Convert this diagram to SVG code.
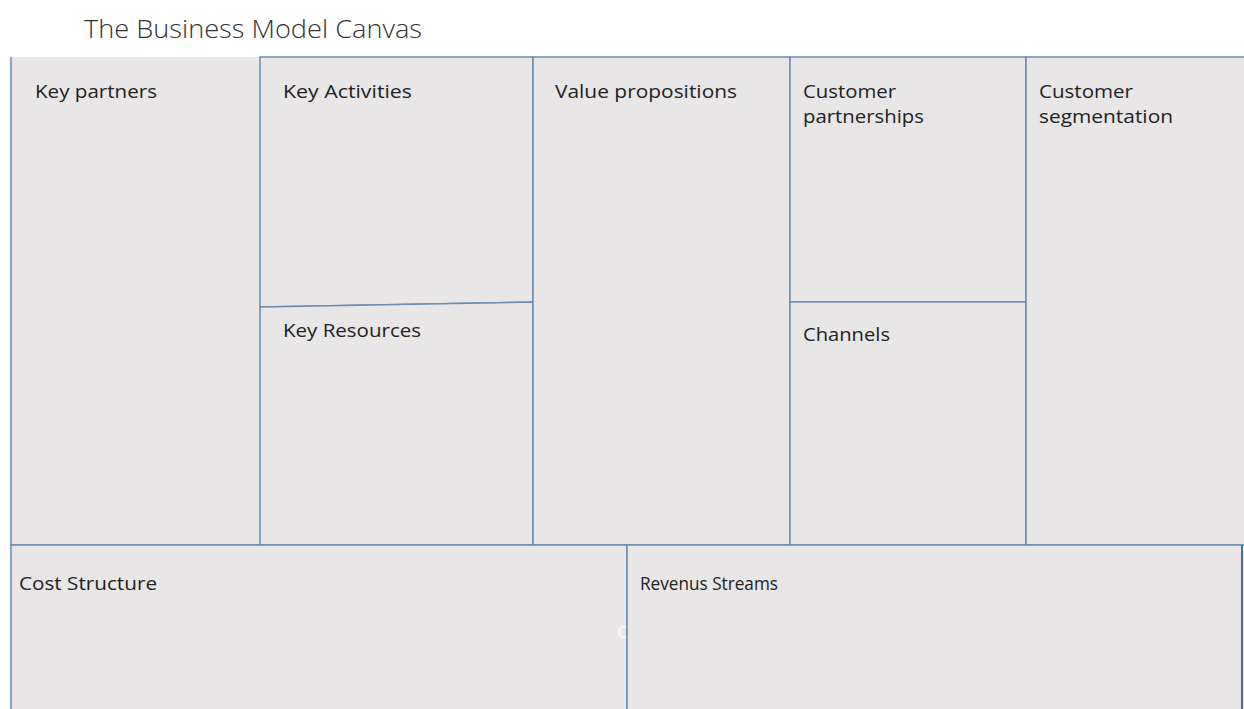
<svg xmlns="http://www.w3.org/2000/svg" width="1244" height="709" viewBox="0 0 1244 709">
  <style>
    .box { fill: #E8E6E7; stroke: #6B8CB3; stroke-width: 1.5; }
    .edge { fill: none; stroke: #6B8CB3; stroke-width: 1.5; }
    .lbl { font-family: "Open Sans", "Liberation Sans", sans-serif; font-size: 19px; fill: #222222; }
    .title { font-family: "Open Sans", "Liberation Sans", sans-serif; font-weight: 300; font-size: 26px; fill: #333333; }
  </style>
  <rect x="0" y="0" width="1244" height="709" fill="#FFFFFF"/>
  <text class="title" x="84" y="38" textLength="338" lengthAdjust="spacingAndGlyphs">The Business Model Canvas</text>
  <rect x="11" y="57" width="1234" height="653" fill="#E8E6E7"/>

  <g id="key-partners">
    <rect x="11" y="57" width="249" height="488" fill="#E8E6E7"/>
    <path class="edge" d="M11,57 V545 H260"/>
    <text class="lbl" x="35" y="98" textLength="122" lengthAdjust="spacingAndGlyphs">Key partners</text>
  </g>
  <g id="key-activities">
    <polygon class="box" points="260,57 533,57 533,302 260,307"/>
    <text class="lbl" x="283" y="98" textLength="129" lengthAdjust="spacingAndGlyphs">Key Activities</text>
  </g>
  <g id="key-resources">
    <polygon class="box" points="260,307 533,302 533,545 260,545"/>
    <text class="lbl" x="283" y="337" textLength="138" lengthAdjust="spacingAndGlyphs">Key Resources</text>
  </g>
  <g id="value-propositions">
    <rect class="box" x="533" y="57" width="257" height="488"/>
    <text class="lbl" x="555" y="98" textLength="182" lengthAdjust="spacingAndGlyphs">Value propositions</text>
  </g>
  <g id="customer-partnerships">
    <rect class="box" x="790" y="57" width="236" height="245"/>
    <text class="lbl" x="803" y="98" textLength="93" lengthAdjust="spacingAndGlyphs">Customer</text>
    <text class="lbl" x="803" y="123" textLength="121" lengthAdjust="spacingAndGlyphs">partnerships</text>
  </g>
  <g id="channels">
    <rect class="box" x="790" y="302" width="236" height="243"/>
    <text class="lbl" x="803" y="341" textLength="87" lengthAdjust="spacingAndGlyphs">Channels</text>
  </g>
  <g id="customer-segmentation">
    <rect class="box" x="1026" y="57" width="220" height="488"/>
    <text class="lbl" x="1039" y="98" textLength="94" lengthAdjust="spacingAndGlyphs">Customer</text>
    <text class="lbl" x="1039" y="123" textLength="134" lengthAdjust="spacingAndGlyphs">segmentation</text>
  </g>
  <g id="cost-structure">
    <rect class="box" x="11" y="545" width="616" height="170"/>
    <text class="lbl" x="19" y="590" textLength="138" lengthAdjust="spacingAndGlyphs">Cost Structure</text>
    <text x="617" y="638" font-family="'Open Sans', 'Liberation Sans', sans-serif" font-size="22" fill="#FFFFFF" fill-opacity="0.75">c</text>
  </g>
  <g id="revenue-streams">
    <rect class="box" x="627" y="545" width="615" height="170"/>
    <line x1="1242" y1="545" x2="1242" y2="709" stroke="#55708F" stroke-width="2"/>
    <text class="lbl" x="640" y="590" textLength="138" lengthAdjust="spacingAndGlyphs">Revenus Streams</text>
  </g>
  <g id="connectors"></g>
</svg>
